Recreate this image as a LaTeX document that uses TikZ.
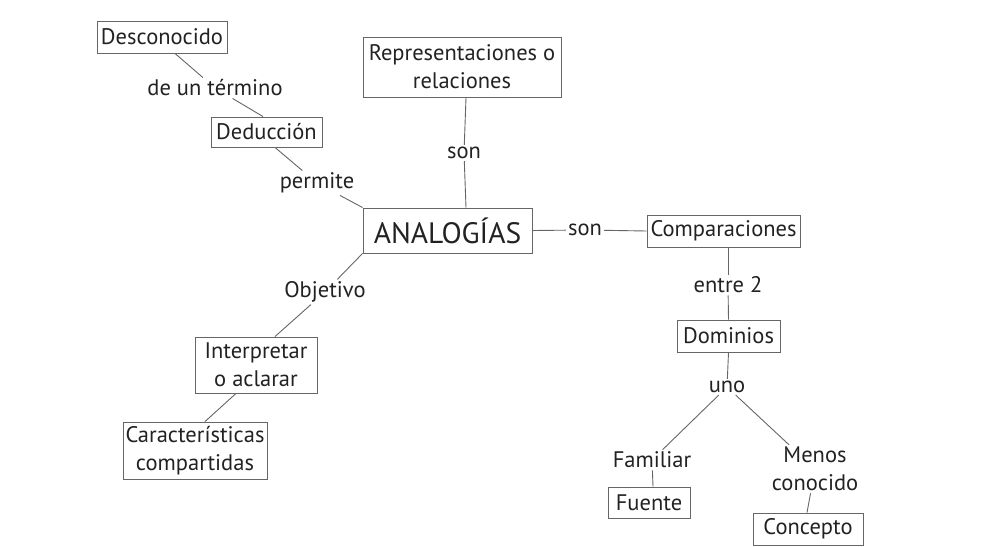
\documentclass[tikz,border=0pt]{standalone}
\usepackage{fontspec}
\setmainfont{PT Sans}
\definecolor{txt}{HTML}{222222}
\definecolor{edge}{HTML}{666666}
\begin{document}
\begin{tikzpicture}[x=1pt,y=-1pt,
  box/.style={draw=edge,line width=0.9pt,text=txt,font=\fontsize{22.5}{28}\selectfont,align=center,inner sep=0pt},
  lab/.style={text=txt,font=\fontsize{22.5}{28}\selectfont,align=center,inner sep=2pt},
  conn/.style={draw=edge,line width=0.9pt}]
\useasboundingbox (0,0) rectangle (990,546);
% boxes
\node[box,minimum width=130pt,minimum height=32pt] (desc) at (162,37) {Desconocido};
\node[box,minimum width=111pt,minimum height=30pt] (ded) at (266.5,132) {Deducción};
\node[box,minimum width=198pt,minimum height=60pt] (rep) at (462,67) {Representaciones o\\relaciones};
\node[box,minimum width=169pt,minimum height=45pt,font=\fontsize{29.5}{32}\selectfont] (ana) at (447.5,230.5) {ANALOGÍAS};
\node[box,minimum width=153pt,minimum height=32pt] (comp) at (723.5,231) {Comparaciones};
\node[box,minimum width=103pt,minimum height=32pt] (dom) at (728.5,336) {Dominios};
\node[box,minimum width=82pt,minimum height=31pt] (fuente) at (649,502.5) {Fuente};
\node[box,minimum width=110pt,minimum height=32pt] (conc) at (808,529) {Concepto};
\node[box,minimum width=122pt,minimum height=56pt] (interp) at (256,365) {Interpretar\\o aclarar};
\node[box,minimum width=144pt,minimum height=57pt] (car) at (195,450.5) {Características\\compartidas};
% labels
\node[lab] (dut) at (215,88) {de un término};
\node[lab] (perm) at (317,183) {permite};
\node[lab] (son1) at (464,153) {son};
\node[lab] (son2) at (585,230) {son};
\node[lab] (entre) at (728,285) {entre 2};
\node[lab] (uno) at (727,387) {uno};
\node[lab] (fam) at (652,460) {Familiar};
\node[lab] (menos) at (815,469) {Menos\\conocido};
\node[lab] (obj) at (325,292) {Objetivo};
% connectors
\draw[conn] ([xshift=13pt]desc.south) -- (dut);
\draw[conn] (dut) -- ([xshift=-3.5pt]ded.north);
\draw[conn] ([xshift=8.5pt]ded.south) -- (perm);
\draw[conn] (perm) -- (ana.north west);
\draw[conn] ([xshift=4pt]rep.south) -- (son1);
\draw[conn] (son1) -- ([xshift=18.5pt]ana.north);
\draw[conn] (ana.east) -- (son2);
\draw[conn] (son2) -- (comp.west);
\draw[conn] ([xshift=4.5pt]comp.south) -- (entre);
\draw[conn] (entre) -- (dom.north);
\draw[conn] (dom.south) -- (uno);
\draw[conn] (uno) -- (fam);
\draw[conn] (uno) -- (menos);
\draw[conn] (fam) -- ([xshift=4pt]fuente.north);
\draw[conn] (menos) -- ([xshift=-1pt]conc.north);
\draw[conn] (ana.south west) -- (obj);
\draw[conn] (obj) -- ([xshift=19pt]interp.north);
\draw[conn] ([xshift=-20pt]interp.south) -- ([xshift=10pt]car.north);
\end{tikzpicture}
\end{document}
